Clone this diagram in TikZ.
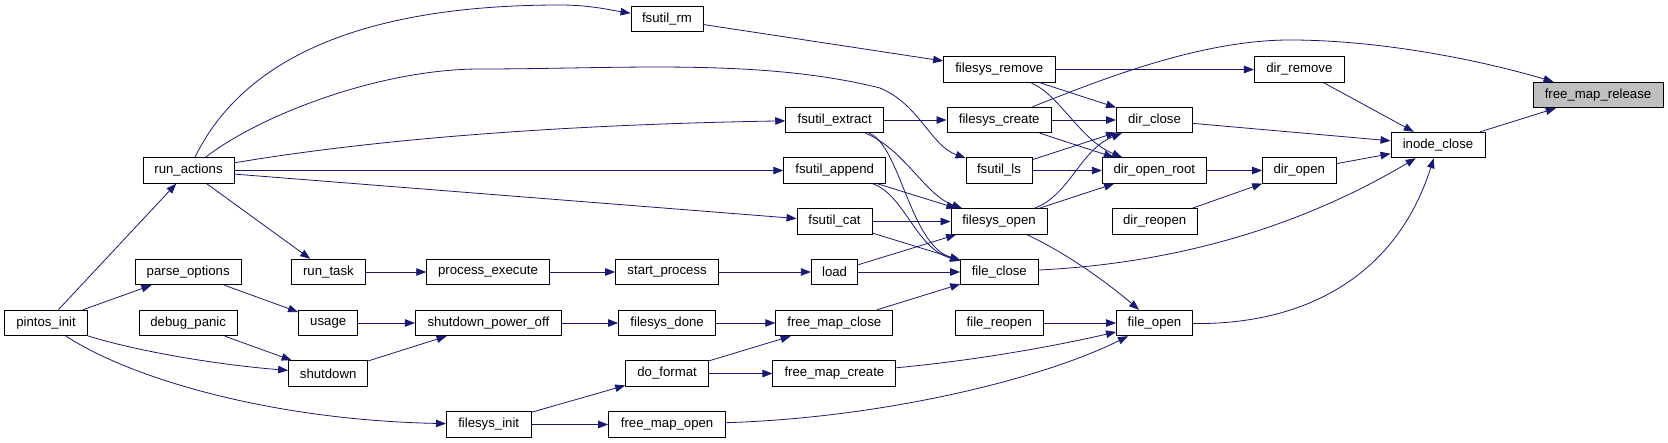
\documentclass[tikz,border=0pt]{standalone}
\usepackage{fontspec}
\setmainfont{Liberation Sans}
\usetikzlibrary{arrows.meta}
\definecolor{edgec}{RGB}{25,25,112}
\definecolor{hl}{RGB}{191,191,191}
\begin{document}
\begin{tikzpicture}[x=1pt,y=-1pt,
  fn/.style={draw=black, line width=0.9pt, fill=white, minimum height=25.5pt, inner sep=0pt,
    font=\fontsize{13.2}{15}\selectfont},
  e/.style={draw=edgec, line width=0.8pt, -{Triangle[length=10pt,width=7.5pt]}}]
\useasboundingbox[fill=white] (0,0) rectangle (1668,443);
% nodes
\node[fn,minimum width=91pt] (runactions) at (188.5,170.5) {run\_actions};
\node[fn,minimum width=72pt] (fsutilrm) at (667,19) {fsutil\_rm};
\node[fn,minimum width=111.4pt] (filesysremove) at (999.3,69.5) {filesys\_remove};
\node[fn,minimum width=98pt] (fsutilextract) at (834.7,120) {fsutil\_extract};
\node[fn,minimum width=104.4pt] (filesyscreate) at (999.2,120) {filesys\_create};
\node[fn,minimum width=66pt] (fsutills) at (999,170.5) {fsutil\_ls};
\node[fn,minimum width=102pt] (fsutilappend) at (834.7,170.5) {fsutil\_append};
\node[fn,minimum width=75pt] (fsutilcat) at (834.5,221.5) {fsutil\_cat};
\node[fn,minimum width=96pt] (filesysopen) at (999,221.5) {filesys\_open};
\node[fn,minimum width=90pt] (dirremove) at (1299.4,69.5) {dir\_remove};
\node[fn,minimum width=130pt,fill=hl] (freemaprelease) at (1598,95) {free\_map\_release};
\node[fn,minimum width=76pt] (dirclose) at (1154.5,120) {dir\_close};
\node[fn,minimum width=94pt] (inodeclose) at (1438,145) {inode\_close};
\node[fn,minimum width=104pt] (diropenroot) at (1154.3,170.5) {dir\_open\_root};
\node[fn,minimum width=73.4pt] (diropen) at (1299.3,170.5) {dir\_open};
\node[fn,minimum width=85.4pt] (dirreopen) at (1154.7,221.5) {dir\_reopen};
\node[fn,minimum width=83pt] (pintosinit) at (46,323) {pintos\_init};
\node[fn,minimum width=106.4pt] (parseoptions) at (188.2,272) {parse\_options};
\node[fn,minimum width=98.5pt] (debugpanic) at (188.2,323) {debug\_panic};
\node[fn,minimum width=73.2pt] (runtask) at (328.4,272) {run\_task};
\node[fn,minimum width=59.3pt] (usage) at (328.2,323) {usage};
\node[fn,minimum width=79.3pt] (shutdown) at (328.2,373.5) {shutdown};
\node[fn,minimum width=122.5pt] (processexecute) at (488,272) {process\_execute};
\node[fn,minimum width=146pt] (shutdownpoweroff) at (488.4,323) {shutdown\_power\_off};
\node[fn,minimum width=84.6pt] (filesysinit) at (488.7,424.5) {filesys\_init};
\node[fn,minimum width=103pt] (startprocess) at (667.1,272) {start\_process};
\node[fn,minimum width=46.5pt] (load) at (834.6,272) {load};
\node[fn,minimum width=77.3pt] (fileclose) at (999.3,272) {file\_close};
\node[fn,minimum width=97pt] (filesysdone) at (667.1,323) {filesys\_done};
\node[fn,minimum width=117pt] (freemapclose) at (834.3,323) {free\_map\_close};
\node[fn,minimum width=88.6pt] (filereopen) at (999.3,323) {file\_reopen};
\node[fn,minimum width=83pt] (doformat) at (667.1,373.5) {do\_format};
\node[fn,minimum width=123pt] (freemapcreate) at (834.4,373.5) {free\_map\_create};
\node[fn,minimum width=117pt] (freemapopen) at (667.1,424.5) {free\_map\_open};
\node[fn,minimum width=76pt] (fileopen) at (1154.5,323) {file\_open};
% edges
\begin{scope}[on background layer/.style={}]
\draw[e] (pintosinit) -- (runactions);
\draw[e] (pintosinit) -- (parseoptions);
\draw[e] (pintosinit) .. controls (140,352) and (220,365) .. (shutdown);
\draw[e] (pintosinit) .. controls (130,378) and (270,420) .. (filesysinit);
\draw[e] (parseoptions) -- (usage);
\draw[e] (debugpanic) -- (shutdown);
\draw[e] (runactions) -- (runtask);
\draw[e] (runactions) .. controls (240,65) and (350,5) .. (560,5) .. controls (590,5) and (610,10) .. (fsutilrm);
\draw[e] (runactions) .. controls (260,115) and (380,69) .. (480,69) .. controls (620,69) and (760,58) .. (880,88) .. controls (920,105) and (930,145) .. (fsutills);
\draw[e] (runactions) .. controls (400,135) and (600,124) .. (fsutilextract);
\draw[e] (runactions) -- (fsutilappend);
\draw[e] (runactions) -- (fsutilcat);
\draw[e] (runtask) -- (processexecute);
\draw[e] (processexecute) -- (startprocess);
\draw[e] (startprocess) -- (load);
\draw[e] (load) -- (filesysopen);
\draw[e] (load) -- (fileclose);
\draw[e] (usage) -- (shutdownpoweroff);
\draw[e] (shutdown) -- (shutdownpoweroff);
\draw[e] (shutdownpoweroff) -- (filesysdone);
\draw[e] (filesysdone) -- (freemapclose);
\draw[e] (freemapclose) -- (fileclose);
\draw[e] (filesysinit) -- (doformat);
\draw[e] (filesysinit) -- (freemapopen);
\draw[e] (doformat) -- (freemapclose);
\draw[e] (doformat) -- (freemapcreate);
\draw[e] (freemapcreate) .. controls (980,360) and (1060,345) .. (fileopen);
\draw[e] (freemapopen) .. controls (880,418) and (1040,380) .. (fileopen);
\draw[e] (filereopen) -- (fileopen);
\draw[e] (filesysopen) .. controls (1070,255) and (1110,285) .. (fileopen);
\draw[e] (fileopen) .. controls (1300,325) and (1395,280) .. (inodeclose);
\draw[e] (fileclose) .. controls (1200,262) and (1320,215) .. (inodeclose);
\draw[e] (fsutilrm) -- (filesysremove);
\draw[e] (fsutilextract) -- (filesyscreate);
\draw[e] (fsutilextract) .. controls (905,150) and (925,195) .. (filesysopen);
\draw[e] (fsutilextract) .. controls (900,145) and (910,245) .. (fileclose);
\draw[e] (fsutilappend) -- (filesysopen);
\draw[e] (fsutilappend) .. controls (905,195) and (915,248) .. (fileclose);
\draw[e] (fsutilcat) -- (filesysopen);
\draw[e] (fsutilcat) -- (fileclose);
\draw[e] (fsutills) -- (dirclose);
\draw[e] (fsutills) -- (diropenroot);
\draw[e] (filesysremove) -- (dirremove);
\draw[e] (filesysremove) -- (dirclose);
\draw[e] (filesysremove) .. controls (1060,95) and (1080,140) .. (diropenroot);
\draw[e] (filesyscreate) .. controls (1100,80) and (1200,40) .. (1290,40) .. controls (1380,40) and (1480,60) .. (freemaprelease);
\draw[e] (filesyscreate) -- (dirclose);
\draw[e] (filesyscreate) -- (diropenroot);
\draw[e] (filesysopen) .. controls (1070,195) and (1080,150) .. (dirclose);
\draw[e] (filesysopen) -- (diropenroot);
\draw[e] (diropenroot) -- (diropen);
\draw[e] (dirreopen) -- (diropen);
\draw[e] (dirremove) -- (inodeclose);
\draw[e] (dirclose) -- (inodeclose);
\draw[e] (diropen) -- (inodeclose);
\draw[e] (inodeclose) -- (freemaprelease);
\end{scope}
\end{tikzpicture}
\end{document}
